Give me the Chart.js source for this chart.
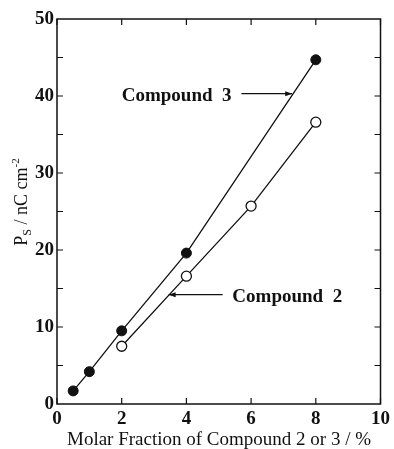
<!DOCTYPE html>
<html>
<head>
<meta charset="utf-8">
<script src="https://cdn.jsdelivr.net/npm/chart.js@4.4.1/dist/chart.umd.min.js"></script>
<style>
  html, body { margin: 0; padding: 0; background: #fff; }
  #wrap { width: 394px; height: 449px; }
</style>
</head>
<body>
<div id="wrap"><canvas id="myChart" width="394" height="449"></canvas></div>
<script>
// data
let x3 = [0.5, 1, 2, 4, 8];
let y3 = [1.7, 4.2, 9.5, 19.6, 44.7];
let x2 = [2, 4, 6, 8];
let y2 = [7.5, 16.6, 25.7, 36.6];
let xTicks = [0, 2, 4, 6, 8, 10];
let yTicks = [0, 10, 20, 30, 40, 50];

let serif = "'Liberation Serif', 'DejaVu Serif', serif";

// inward ticks, frame, titles and the two labels
let decor = {
  id: "decor",
  afterDraw(chart) {
    let c = chart.ctx;
    let xs = chart.scales.x, ys = chart.scales.y;
    let a = chart.chartArea;
    c.save();
    c.strokeStyle = "#111";
    c.lineWidth = 1.5;
    c.strokeRect(a.left, a.top, a.right - a.left, a.bottom - a.top);
    c.lineWidth = 1.2;
    xTicks.forEach(v => {
      let px = xs.getPixelForValue(v);
      c.beginPath();
      c.moveTo(px, a.bottom); c.lineTo(px, a.bottom - 6);
      c.moveTo(px, a.top); c.lineTo(px, a.top + 6);
      c.stroke();
    });
    for (let v = 5; v < 50; v += 5) {
      let py = ys.getPixelForValue(v);
      c.beginPath();
      c.moveTo(a.left, py); c.lineTo(a.left + 6, py);
      c.moveTo(a.right, py); c.lineTo(a.right - 6, py);
      c.stroke();
    }
    // x title
    c.fillStyle = "#111";
    c.font = "19px " + serif;
    c.textAlign = "center";
    c.textBaseline = "alphabetic";
    c.fillText("Molar Fraction of Compound 2 or 3 / %", 219, 445);
    // y title
    c.save();
    c.translate(27, 202);
    c.rotate(-Math.PI / 2);
    c.textAlign = "left";
    let parts = [["P", 18, 0], ["S", 12, 4], [" / nC cm", 18, 0], ["-2", 11, -8]];
    let w = 0;
    parts.forEach(p => { c.font = p[1] + "px " + serif; w += c.measureText(p[0]).width; });
    let x0 = -w / 2;
    parts.forEach(p => {
      c.font = p[1] + "px " + serif;
      c.fillText(p[0], x0, p[2]);
      x0 += c.measureText(p[0]).width;
    });
    c.restore();
    // labels with leader lines
    c.font = "bold 19px " + serif;
    c.textAlign = "left";
    c.textBaseline = "middle";
    c.fillText("Compound  3", xs.getPixelForValue(2.0), ys.getPixelForValue(40.0));
    c.fillText("Compound  2", xs.getPixelForValue(5.42), ys.getPixelForValue(13.9));
    c.lineWidth = 1.2;
    let arrow = (fx, tx, yv) => {
      let p1 = xs.getPixelForValue(fx), p2 = xs.getPixelForValue(tx), py = ys.getPixelForValue(yv);
      c.beginPath(); c.moveTo(p1, py); c.lineTo(p2, py); c.stroke();
      let d = p2 > p1 ? -1 : 1;
      c.beginPath();
      c.moveTo(p2, py); c.lineTo(p2 + d * 7, py - 2.5); c.lineTo(p2 + d * 7, py + 2.5); c.closePath();
      c.fill();
    };
    arrow(5.7, 7.27, 40.3);
    arrow(5.12, 3.45, 14.2);
    c.restore();
  }
};

let ctx = document.getElementById("myChart");
let myChart = new Chart(ctx, {
  type: "scatter",
  data: {
    datasets: [
      {
        label: "Compound 3",
        data: x3.map((v, i) => ({ x: v, y: y3[i] })),
        showLine: true,
        borderColor: "#111",
        borderWidth: 1.3,
        backgroundColor: "#111",
        pointRadius: 5,
        pointBorderWidth: 1,
        pointBorderColor: "#111",
        pointBackgroundColor: "#111",
      },
      {
        label: "Compound 2",
        data: x2.map((v, i) => ({ x: v, y: y2[i] })),
        showLine: true,
        borderColor: "#111",
        borderWidth: 1.3,
        pointRadius: 5,
        pointBorderWidth: 1.3,
        pointBorderColor: "#111",
        pointBackgroundColor: "#fff",
      },
    ],
  },
  options: {
    responsive: false,
    animation: false,
    layout: { padding: { top: 19, right: 13, left: 0, bottom: 0 } },
    plugins: {
      legend: { display: false },
      tooltip: { enabled: false },
    },
    scales: {
      x: {
        min: 0,
        max: 10,
        afterBuildTicks: s => { s.ticks = xTicks.map(v => ({ value: v })); },
        afterFit: s => { s.height = 45; },
        grid: { display: false, drawTicks: false },
        border: { display: false },
        ticks: {
          color: "#111",
          padding: 4,
          maxRotation: 0,
          font: { family: serif, size: 19, weight: "bold" },
        },
      },
      y: {
        min: 0,
        max: 50,
        afterBuildTicks: s => { s.ticks = yTicks.map(v => ({ value: v })); },
        afterFit: s => { s.width = 57; },
        grid: { display: false, drawTicks: false },
        border: { display: false },
        ticks: {
          color: "#111",
          padding: 3,
          font: { family: serif, size: 19, weight: "bold" },
        },
      },
    },
  },
  plugins: [decor],
});
</script>
</body>
</html>
